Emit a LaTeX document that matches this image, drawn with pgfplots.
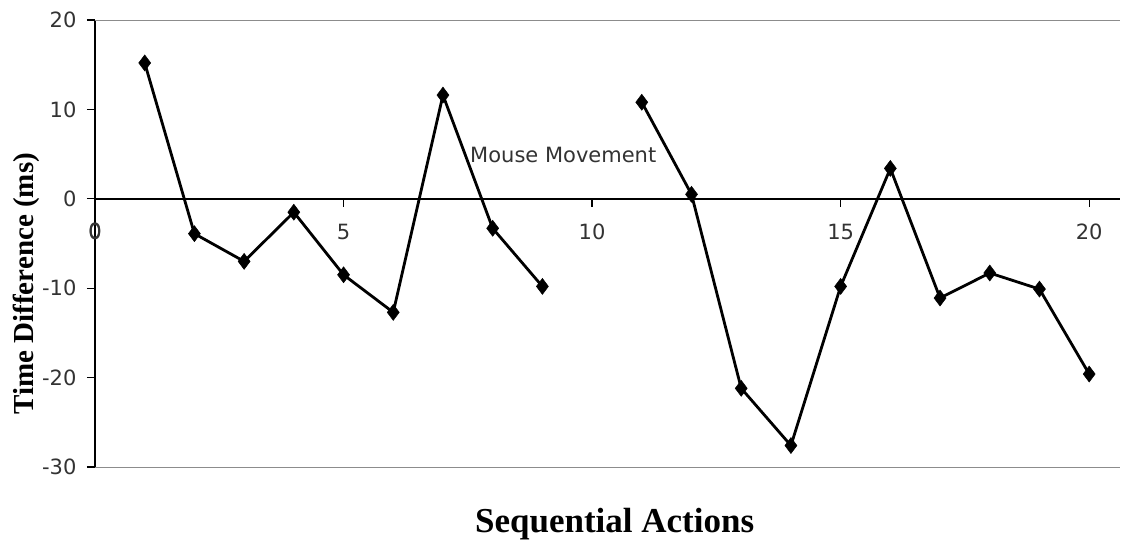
\documentclass[border=0pt]{standalone}
\usepackage{fontspec}
\setmainfont{Liberation Serif}
\newfontfamily\tickfont{DejaVu Sans}
\usepackage{pgfplots}
\pgfplotsset{compat=1.18}
\pgfplotstableread{
x y
1 15.2
2 -3.9
3 -7.0
4 -1.5
5 -8.5
6 -12.7
7 11.6
8 -3.3
9 -9.8
10 nan
11 10.8
12 0.5
13 -21.2
14 -27.6
15 -9.8
16 3.4
17 -11.1
18 -8.3
19 -10.1
20 -19.6
}\datatable
\begin{document}
\begin{tikzpicture}
\begin{axis}[
  scale only axis,
  width=1025pt, height=447pt,
  xmin=0, xmax=20.62, ymin=-30, ymax=20,
  axis x line*=middle, axis y line*=left,
  xtick={0,5,10,15,20}, ytick={-30,-20,-10,0,10,20},
  hide obscured x ticks=false,
  tick align=outside,
  major tick length=8pt,
  every tick/.style={black, line width=1.3pt},
  axis line style={black, line width=1.5pt},
  tick label style={font=\tickfont\fontsize{21}{22}\selectfont, text=black!80},
  /pgf/number format/assume math mode=true,
  xticklabel style={yshift=-14pt},
  yticklabel style={xshift=-7pt},
  xlabel={\textbf{Sequential Actions}},
  ylabel={\textbf{Time Difference (ms)}},
  xlabel style={font=\fontsize{35}{36}\selectfont, at={(rel axis cs:0.507,0)}, anchor=center, yshift=-57pt},
  ylabel style={font=\fontsize{29}{30}\selectfont, at={(rel axis cs:0,0.41)}, anchor=center, yshift=69pt},
  clip=false,
  unbounded coords=jump,
]
\coordinate (sw) at (rel axis cs:0,0);
\draw[black!45, line width=1pt] (axis cs:0,20) -- (axis cs:20.62,20);
\draw[black!45, line width=1pt] (axis cs:0,-30) -- (axis cs:20.62,-30);
\addplot[black, line width=2.8pt, mark=diamond*, mark size=8pt, mark options={solid, fill=black, line width=0.5pt}] table[x=x, y=y] {\datatable};
\node[font=\tickfont\fontsize{21}{22}\selectfont, text=black!80] at (axis cs:9.42,4.9) {Mouse Movement};
\node[font=\tickfont\fontsize{21}{22}\selectfont, text=black!80, anchor=north] at (axis cs:0,0) [yshift=-21pt] {0};
\end{axis}
\pgfresetboundingbox
\path ([shift={(-95pt,-75pt)}]sw) rectangle ([shift={(1027pt,467pt)}]sw);
\end{tikzpicture}
\end{document}
